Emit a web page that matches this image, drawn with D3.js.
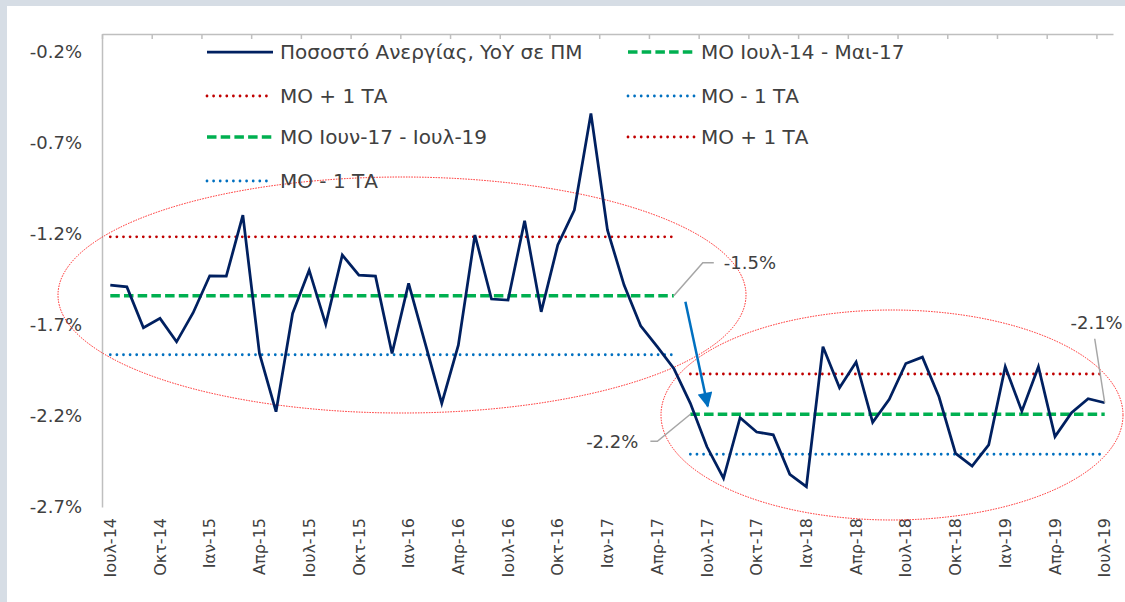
<!DOCTYPE html>
<html>
<head>
<meta charset="utf-8">
<script src="https://cdn.jsdelivr.net/npm/d3@7"></script>
<style>
  html, body { margin: 0; padding: 0; background: #d6dde5; }
  svg { display: block; font-family: "DejaVu Sans", sans-serif; }
</style>
</head>
<body>
<div id="app"></div>
<script>
// categories (monthly, Ιουλ-14 .. Ιουλ-19)
const categories = [
  "Ιουλ-14","Αυγ-14","Σεπ-14","Οκτ-14","Νοε-14","Δεκ-14",
  "Ιαν-15","Φεβ-15","Μαρ-15","Απρ-15","Μαι-15","Ιουν-15","Ιουλ-15","Αυγ-15","Σεπ-15","Οκτ-15","Νοε-15","Δεκ-15",
  "Ιαν-16","Φεβ-16","Μαρ-16","Απρ-16","Μαι-16","Ιουν-16","Ιουλ-16","Αυγ-16","Σεπ-16","Οκτ-16","Νοε-16","Δεκ-16",
  "Ιαν-17","Φεβ-17","Μαρ-17","Απρ-17","Μαι-17","Ιουν-17","Ιουλ-17","Αυγ-17","Σεπ-17","Οκτ-17","Νοε-17","Δεκ-17",
  "Ιαν-18","Φεβ-18","Μαρ-18","Απρ-18","Μαι-18","Ιουν-18","Ιουλ-18","Αυγ-18","Σεπ-18","Οκτ-18","Νοε-18","Δεκ-18",
  "Ιαν-19","Φεβ-19","Μαρ-19","Απρ-19","Μαι-19","Ιουν-19","Ιουλ-19"
];

// unemployment rate, YoY change (pp)
const unemployment = [
  -1.48, -1.49, -1.715, -1.663, -1.792, -1.632,
  -1.429, -1.431, -1.096, -1.856, -2.176, -1.636, -1.398, -1.696, -1.315, -1.425, -1.431, -1.856,
  -1.471, -1.801, -2.130, -1.810, -1.205, -1.557, -1.563, -1.127, -1.627, -1.260, -1.068, -0.537,
  -1.178, -1.480, -1.704, -1.819, -1.938, -2.130, -2.369, -2.542, -2.209, -2.288, -2.303, -2.520,
  -2.588, -1.819, -2.044, -1.903, -2.235, -2.108, -1.911, -1.876, -2.094, -2.405, -2.475, -2.359,
  -1.929, -2.173, -1.929, -2.313, -2.182, -2.105, -2.127
];

// the two periods: mean and +/- 1 st.dev. bands
const periodStart = ["Ιουλ-14", "Ιουν-17"];
const periodEnd = ["Μαι-17", "Ιουλ-19"];
const periodMean = [-1.539, -2.19];
const periodUpper = [-1.215, -1.969];
const periodLower = [-1.863, -2.41];

// axis ticks
const yTicks = [-0.2, -0.7, -1.2, -1.7, -2.2, -2.7];
const xTickLabels = [
  "Ιουλ-14","Οκτ-14","Ιαν-15","Απρ-15","Ιουλ-15","Οκτ-15","Ιαν-16","Απρ-16","Ιουλ-16","Οκτ-16","Ιαν-17",
  "Απρ-17","Ιουλ-17","Οκτ-17","Ιαν-18","Απρ-18","Ιουλ-18","Οκτ-18","Ιαν-19","Απρ-19","Ιουλ-19"
];

// annotation texts
const annoMean1 = "-1.5%";
const annoMean2 = "-2.2%";
const annoLast = "-2.1%";

const W = 1125, H = 602;
const navy = "#002060", green = "#00b050", red = "#c00000", blue = "#0070c0", axisGrey = "#bfbfbf", txt = "#404040";

const svg = d3.select("#app").append("svg").attr("width", W).attr("height", H);
svg.append("rect").attr("width", W).attr("height", H).attr("fill", "#d6dde5");
svg.append("rect").attr("x", 7).attr("y", 6).attr("width", W - 7).attr("height", H - 6).attr("fill", "#fff");

// scales
const x = d3.scaleLinear().domain([-0.5, categories.length - 0.5]).range([102, 1113]);
const y = d3.scaleLinear().domain([-2.7, -0.1]).range([507, 34]);
const xi = (c) => x(categories.indexOf(c));

// style helpers
const styles = {
  navy: (s) => s.attr("stroke", navy).attr("stroke-width", 2.75).attr("fill", "none"),
  green: (s) => s.attr("stroke", green).attr("stroke-width", 3.5).attr("stroke-dasharray", "9.5 4.2"),
  red: (s) => s.attr("stroke", red).attr("stroke-width", 2.8).attr("stroke-linecap", "round").attr("stroke-dasharray", "0 6.6"),
  blue: (s) => s.attr("stroke", blue).attr("stroke-width", 2.8).attr("stroke-linecap", "round").attr("stroke-dasharray", "0 6.6")
};

// top axis (ticks pointing down) and left axis
const tickPos = d3.range(0, xTickLabels.length).map((k) => -0.5 + 3 * k);
svg.append("g")
  .attr("transform", `translate(0,${y(-0.1)})`)
  .call(d3.axisBottom(x).tickValues(tickPos).tickSize(5).tickSizeOuter(0).tickFormat(""))
  .call((g) => g.selectAll("path,line").attr("stroke", axisGrey).attr("stroke-width", 1.5));

svg.append("g")
  .attr("transform", `translate(${x(-0.5)},0)`)
  .call(d3.axisLeft(y).tickValues(yTicks).tickSize(0).tickPadding(20).tickFormat((d) => d.toFixed(1) + "%"))
  .call((g) => g.select(".domain").attr("stroke", axisGrey).attr("stroke-width", 1.5))
  .call((g) => g.selectAll("text").attr("fill", txt).attr("font-size", 18).attr("font-family", "DejaVu Sans"));

// x labels (rotated)
svg.append("g").selectAll("text")
  .data(xTickLabels)
  .join("text")
  .attr("transform", (d) => `translate(${xi(d)},518) rotate(-90)`)
  .attr("text-anchor", "end")
  .attr("dy", "0.35em")
  .attr("font-size", 16)
  .attr("fill", txt)
  .text((d) => d);

// ellipses around the two periods
const ell = svg.append("g").attr("fill", "none").attr("stroke", "#ff2020").attr("stroke-width", 1).attr("stroke-dasharray", "1.5 1.2");
ell.append("ellipse").attr("cx", 402).attr("cy", 295).attr("rx", 344).attr("ry", 118);
ell.append("ellipse").attr("cx", 892).attr("cy", 415).attr("rx", 231).attr("ry", 105);

// mean / band lines
periodStart.forEach((s, i) => {
  const x1 = xi(s), x2 = xi(periodEnd[i]);
  svg.append("line").attr("x1", x1).attr("x2", x2).attr("y1", y(periodUpper[i])).attr("y2", y(periodUpper[i])).call(styles.red);
  svg.append("line").attr("x1", x1).attr("x2", x2).attr("y1", y(periodLower[i])).attr("y2", y(periodLower[i])).call(styles.blue);
  svg.append("line").attr("x1", x1).attr("x2", x2).attr("y1", y(periodMean[i])).attr("y2", y(periodMean[i])).call(styles.green);
});

// main series
const line = d3.line().x((d, i) => x(i)).y((d) => y(d));
svg.append("path").datum(unemployment).attr("d", line).call(styles.navy).attr("stroke-linejoin", "miter");

// annotations
const lead = svg.append("g").attr("fill", "none").attr("stroke", "#a6a6a6").attr("stroke-width", 1.5);
const m1x = xi(periodEnd[0]), m1y = y(periodMean[0]);
lead.append("polyline").attr("points", `${m1x},${m1y} ${m1x + 29},${m1y - 33} ${m1x + 40},${m1y - 33}`);
svg.append("text").attr("x", m1x + 50).attr("y", m1y - 33).attr("dy", "0.35em").attr("font-size", 18).attr("fill", txt).text(annoMean1);

const m2x = xi(periodStart[1]), m2y = y(periodMean[1]);
lead.append("polyline").attr("points", `${m2x},${m2y} ${m2x - 33},${m2y + 27} ${m2x - 40},${m2y + 27}`);
svg.append("text").attr("x", m2x - 52).attr("y", m2y + 27).attr("dy", "0.35em").attr("text-anchor", "end").attr("font-size", 18).attr("fill", txt).text(annoMean2);

const lx = x(unemployment.length - 1), ly = y(unemployment[unemployment.length - 1]);
lead.append("line").attr("x1", lx).attr("y1", ly).attr("x2", lx - 10).attr("y2", ly - 64);
svg.append("text").attr("x", lx + 18).attr("y", ly - 80).attr("dy", "0.35em").attr("text-anchor", "end").attr("font-size", 18).attr("fill", txt).text(annoLast);

// blue arrow from first mean to second mean
svg.append("defs").append("marker")
  .attr("id", "arr").attr("viewBox", "0 0 10 10").attr("refX", 9).attr("refY", 5)
  .attr("markerWidth", 6.5).attr("markerHeight", 6).attr("orient", "auto")
  .append("path").attr("d", "M0,0 L10,5 L0,10 z").attr("fill", blue);
svg.append("line")
  .attr("x1", x(34.7)).attr("y1", m1y + 6)
  .attr("x2", x(36.05)).attr("y2", m2y - 8)
  .attr("stroke", blue).attr("stroke-width", 2.5).attr("marker-end", "url(#arr)");

// legend
const legendItems = [
  { label: "Ποσοστό Ανεργίας, YoY σε ΠΜ", style: "navy", col: 0, row: 0 },
  { label: "ΜΟ Ιουλ-14 - Μαι-17", style: "green", col: 1, row: 0 },
  { label: "ΜΟ + 1 ΤΑ", style: "red", col: 0, row: 1 },
  { label: "ΜΟ - 1 ΤΑ", style: "blue", col: 1, row: 1 },
  { label: "ΜΟ Ιουν-17 - Ιουλ-19", style: "green", col: 0, row: 2 },
  { label: "ΜΟ + 1 ΤΑ", style: "red", col: 1, row: 2 },
  { label: "ΜΟ - 1 ΤΑ", style: "blue", col: 0, row: 3 }
];
const legColX = [207, 628], legRowY = [52, 96, 137, 181];
const leg = svg.append("g");
legendItems.forEach((d) => {
  const lx0 = legColX[d.col], ly0 = legRowY[d.row];
  leg.append("line").attr("x1", lx0).attr("x2", lx0 + 66).attr("y1", ly0).attr("y2", ly0).call(styles[d.style]);
  leg.append("text").attr("x", lx0 + 73).attr("y", ly0).attr("dy", "0.35em").attr("font-size", 20).attr("fill", txt).text(d.label);
});
</script>
</body>
</html>
